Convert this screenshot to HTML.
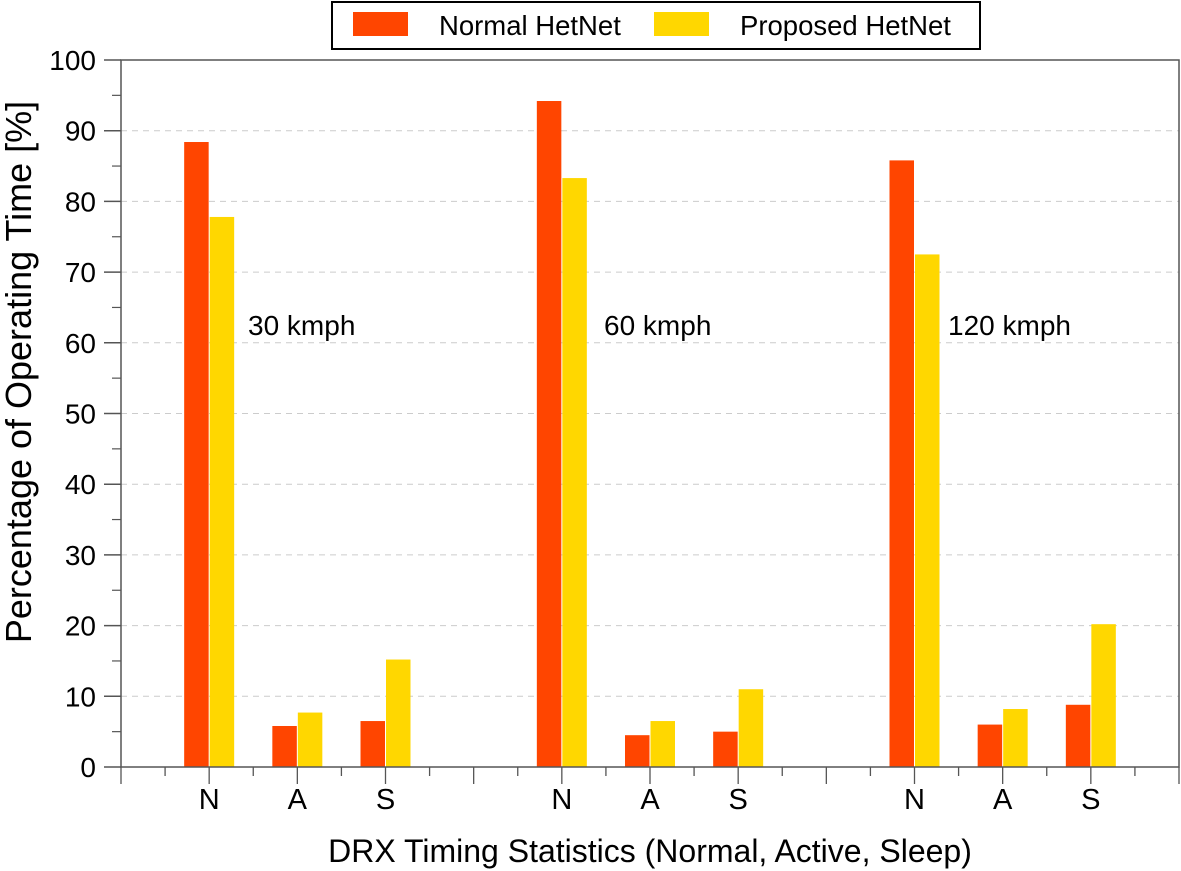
<!DOCTYPE html>
<html><head><meta charset="utf-8"><style>
html,body{margin:0;padding:0;background:#fff}
svg{display:block;font-family:"Liberation Sans",Arial,sans-serif}
</style></head><body>
<svg id="chart" width="1181" height="871" viewBox="0 0 1181 871">
<g id="grid"></g>
<g id="bars"></g>
<g id="axes"></g>
<g>
<rect x="332" y="2" width="648" height="47" fill="#fff" stroke="#000" stroke-width="2"/>
<rect x="353" y="12" width="55" height="24" fill="#ff4500"/>
<text x="439" y="35" font-size="27.5">Normal HetNet</text>
<rect x="654" y="12" width="55" height="24" fill="#ffd700"/>
<text x="740" y="35" font-size="27.5">Proposed HetNet</text>
</g>
<text x="248" y="335" font-size="28">30 kmph</text>
<text x="604" y="335" font-size="28">60 kmph</text>
<text x="948" y="335" font-size="28">120 kmph</text>
<text x="650" y="862" font-size="32" text-anchor="middle">DRX Timing Statistics (Normal, Active, Sleep)</text>
<text transform="translate(31,372) rotate(-90)" font-size="36" text-anchor="middle">Percentage of Operating Time [%]</text>
</svg>
<script>
const categories = ["N","A","S","N","A","S","N","A","S"];
const categorySlots = [2,4,6,10,12,14,18,20,22];
const normalValues = [88.4,5.8,6.5,94.2,4.5,5.0,85.8,6.0,8.8];
const proposedValues = [77.8,7.7,15.2,83.3,6.5,11.0,72.5,8.2,20.2];
const yTicks = [0,10,20,30,40,50,60,70,80,90,100];

const NS="http://www.w3.org/2000/svg";
const X0=121,X1=1179,Y0=767,Y1=60,SLOTS=24;
const xs=s=>X0+(X1-X0)*s/SLOTS;
const ys=v=>Y0-(Y0-Y1)*v/100;
function mk(tag,attrs,parent){const e=document.createElementNS(NS,tag);for(const k in attrs)e.setAttribute(k,attrs[k]);parent.appendChild(e);return e;}
const grid=document.getElementById('grid'),bars=document.getElementById('bars'),axes=document.getElementById('axes');

yTicks.forEach(v=>{
  if(v>0&&v<100){const g=mk('line',{x1:X0,x2:X1,y1:ys(v),y2:ys(v),stroke:'#ccc','stroke-width':1,'stroke-dasharray':'6,5'},grid);
  
  }
  const t=mk('line',{x1:X0-17,x2:X0,y1:ys(v),y2:ys(v),stroke:'#555','stroke-width':1.5},axes);
  
  
  const l=mk('text',{x:X0-25,y:ys(v)+10,'font-size':28,'text-anchor':'end'},axes);
  l.textContent=v;
  
  
});
for(let v=5;v<100;v+=10){
  const t=mk('line',{x1:X0-9,x2:X0,y1:ys(v),y2:ys(v),stroke:'#555','stroke-width':1.2},axes);
  
  
}
for(let s=0;s<=SLOTS;s++){
  const len=(s%8===0)?17:(categorySlots.includes(s)?17:9);
  const t=mk('line',{x1:xs(s),x2:xs(s),y1:Y0,y2:Y0+len,stroke:'#555','stroke-width':1.3},axes);
  
  
}
categories.forEach((c,i)=>{
  const cx=xs(categorySlots[i]);
  const r=mk('rect',{x:cx-25,y:ys(normalValues[i]),width:24.5,height:Y0-ys(normalValues[i]),fill:'#ff4500'},bars);
  
  
  const p=mk('rect',{x:cx+0.5,y:ys(proposedValues[i]),width:24.5,height:Y0-ys(proposedValues[i]),fill:'#ffd700'},bars);
  
  
  const l=mk('text',{x:cx,y:809,'font-size':29,'text-anchor':'middle'},axes);
  l.textContent=c;
  
  
});
const frame=mk('rect',{x:X0,y:Y1,width:X1-X0,height:Y0-Y1,fill:'none',stroke:'#555','stroke-width':1.5},axes);


</script>
</body></html>
